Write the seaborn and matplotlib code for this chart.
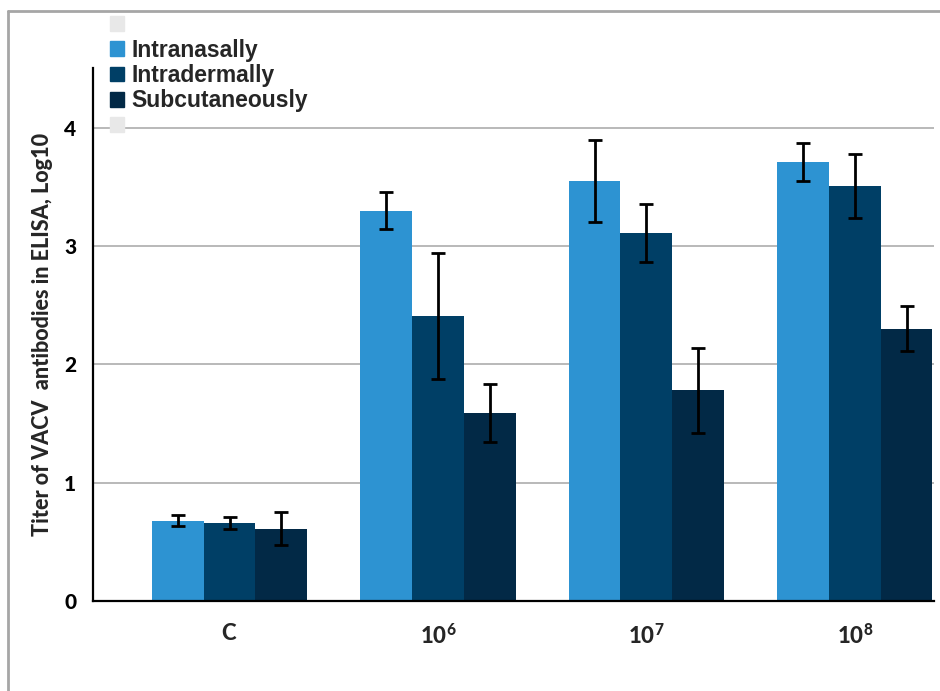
import numpy as np
import pandas as pd
import matplotlib
matplotlib.use("Agg")
import matplotlib.pyplot as plt
from matplotlib.patches import Patch
from matplotlib.lines import Line2D
import seaborn as sns

# ---- data ----
groups = ["C", "10^6", "10^7", "10^8"]
group_labels = [r"$\mathbf{C}$", r"$\mathbf{10^{6}}$", r"$\mathbf{10^{7}}$", r"$\mathbf{10^{8}}$"]
routes = ["Intranasally", "Intradermally", "Subcutaneously"]
intranasal = [0.68, 3.30, 3.55, 3.71]
intranasal_err = [0.045, 0.16, 0.35, 0.16]
intradermal = [0.66, 2.41, 3.11, 3.51]
intradermal_err = [0.05, 0.53, 0.245, 0.27]
subcutaneous = [0.61, 1.59, 1.78, 2.30]
subcutaneous_err = [0.14, 0.245, 0.36, 0.19]
colors = ["#2D93D2", "#003F66", "#022946"]
y_ticks = [0, 1, 2, 3, 4]
y_label = "Titer of VACV  antibodies in ELISA, Log10"

means = {routes[0]: intranasal, routes[1]: intradermal, routes[2]: subcutaneous}
errs = {routes[0]: intranasal_err, routes[1]: intradermal_err, routes[2]: subcutaneous_err}
rows = []
for r in routes:
    for g, m, e in zip(groups, means[r], errs[r]):
        rows.append({"group": g, "route": r, "value": m, "err": e})
df = pd.DataFrame(rows)

sns.set_theme(style="white")
plt.rcParams["font.family"] = ["Lato", "DejaVu Sans"]
plt.rcParams["mathtext.fontset"] = "custom"
plt.rcParams["mathtext.bf"] = "Lato:black"
plt.rcParams["mathtext.rm"] = "Lato"

fig = plt.figure(figsize=(9.4, 6.91), dpi=100)
ax = fig.add_axes([93 / 940, 90 / 691, (934 - 93) / 940, (601 - 68) / 691])

sns.barplot(data=df, x="group", y="value", hue="route", order=groups,
            hue_order=routes, palette=colors, errorbar=None, width=0.745,
            gap=0, saturation=1, legend=False, ax=ax, zorder=2, linewidth=0)

# error bars from the bar patches created by seaborn
bars = [p for p in ax.patches if p.get_height() > 0]
for p in bars:
    xc = p.get_x() + p.get_width() / 2
    h = p.get_height()
    row = df[np.isclose(df["value"], h)]
    e = row["err"].iloc[0]
    ax.errorbar(xc, h, yerr=e, fmt="none", ecolor="black", elinewidth=2,
                capsize=5, capthick=2, zorder=3)

ax.set_xlim(-0.655, 3.38)
ax.set_ylim(0, 4.505)
ax.set_yticks(y_ticks)
ax.set_yticklabels([str(t) for t in y_ticks], fontsize=15, fontweight="black")
ax.set_xticks(range(len(groups)))
ax.set_xticklabels(group_labels, fontsize=16)
ax.tick_params(axis="x", length=0, pad=16)
ax.tick_params(axis="y", direction="inout", length=12, width=1.5, pad=6, colors="black")
ax.set_xticks([3.38], minor=True)
ax.tick_params(axis="x", which="minor", direction="out", length=6, width=1.5)
ax.set_xlabel("")
ax.set_ylabel(y_label, fontsize=15.5, fontweight="black", labelpad=8)

for t in y_ticks[1:]:
    ax.axhline(t, color="#B3B3B3", lw=1.3, zorder=1)
for s in ["top", "right"]:
    ax.spines[s].set_visible(False)
for s in ["left", "bottom"]:
    ax.spines[s].set_color("black")
    ax.spines[s].set_linewidth(1.6)
    ax.spines[s].set_zorder(4)

handles = [Patch(color="#E8E8E8")] + [Patch(color=c) for c in colors] + [Patch(color="#E8E8E8")]
labels = [""] + routes + [""]
leg = fig.legend(handles, labels, loc="upper left", bbox_to_anchor=(99 / 940, 1 - 2 / 691),
                 frameon=False, handlelength=0.6, handleheight=0.6, handletextpad=0.3,
                 labelspacing=0.1, borderpad=0.0,
                 prop={"family": "Liberation Sans", "weight": "bold", "size": 16.5})

# outer frame (left and top edges)
fig.add_artist(Line2D([8 / 940, 8 / 940], [0, 1 - 11 / 691], transform=fig.transFigure,
                      color="#A6A6A6", lw=2))
fig.add_artist(Line2D([8 / 940, 1], [1 - 11 / 691, 1 - 11 / 691], transform=fig.transFigure,
                      color="#A6A6A6", lw=2))

fig.savefig("out.png", dpi=100)
